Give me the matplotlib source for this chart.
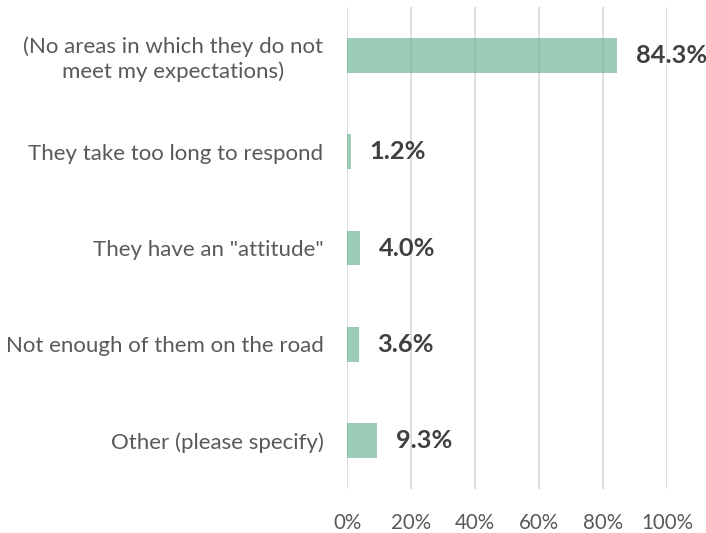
import matplotlib.pyplot as plt

categories = ['(No areas in which they do not\nmeet my expectations)',
              'They take too long to respond',
              'They have an "attitude"',
              'Not enough of them on the road',
              'Other (please specify)']
values = [0.843, 0.012, 0.040, 0.036, 0.093]
xticks = [0, 0.2, 0.4, 0.6, 0.8, 1.0]

plt.rcParams['font.family'] = ['Lato', 'DejaVu Sans']

fig = plt.figure(figsize=(7.06, 5.33), dpi=100)
ax = fig.add_axes([347 / 706, 1 - 489 / 533, 320 / 706, 482 / 533])

pos = list(range(len(categories)))
ax.barh(pos, values, height=0.36, color='#5fae88', alpha=0.62, zorder=3)
ax.set_xlim(0, 1)
ax.set_ylim(len(categories) - 0.5, -0.5)

for p, v in zip(pos, values):
    ax.annotate(f'{v * 100:.1f}%', (v, p), xytext=(13.5, 0), textcoords='offset points',
                va='center', ha='left', fontsize=18.3, fontweight='bold', color='#404040')

ax.set_yticks(pos)
ax.set_yticklabels(categories, fontsize=16, color='#595959', multialignment='center',
                   linespacing=1.25)
ax.set_xticks(xticks)
ax.set_xticklabels([f'{int(t * 100)}%' for t in xticks], fontsize=14.8, color='#595959')
ax.tick_params(axis='y', length=0, pad=17)
ax.tick_params(axis='x', length=0, pad=17)
ax.grid(axis='x', color='#d9d9d9', linewidth=1.2, zorder=4)
for s in ax.spines.values():
    s.set_visible(False)

fig.savefig('out.png', dpi=100)
